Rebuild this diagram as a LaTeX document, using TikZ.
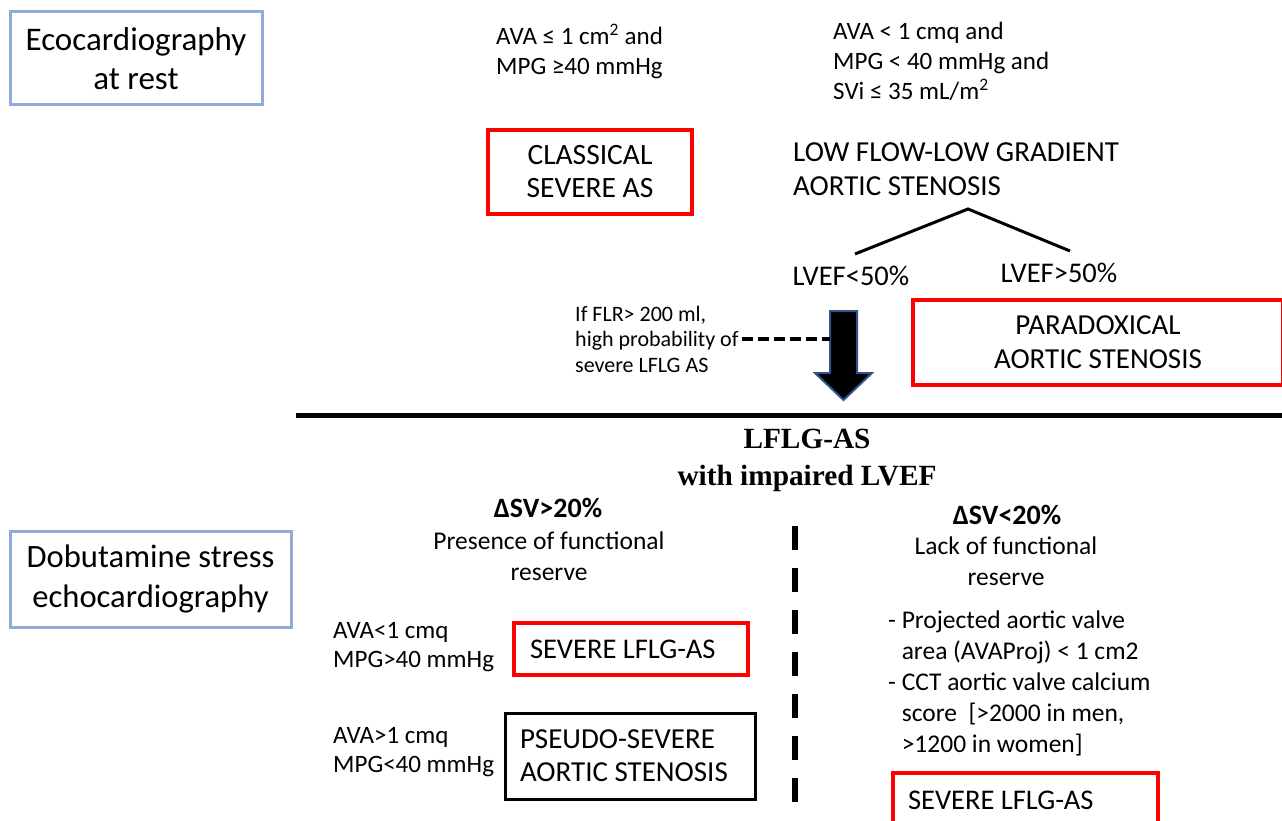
\documentclass[tikz,border=0pt]{standalone}
\usepackage{fontspec}
\setmainfont{Carlito}
\newfontfamily\hdrfont{Liberation Serif}
\definecolor{boxblue}{RGB}{143,170,220}
\definecolor{boxred}{RGB}{255,0,0}
\definecolor{arrowedge}{RGB}{47,82,143}
\tikzset{
  txt/.style={inner sep=0pt, align=flush left},
  ctxt/.style={inner sep=0pt, align=center},
  bluebox/.style={draw=boxblue, line width=3pt, align=center, inner sep=0pt},
  redbox/.style={draw=boxred, line width=4pt, align=center, inner sep=0pt},
  blackbox/.style={draw=black, line width=3pt, align=flush left, inner ysep=0pt},
}
\begin{document}
\begin{tikzpicture}[x=1pt,y=-1pt]
\useasboundingbox (0,0) rectangle (1282,821);

% left stage boxes
\node[bluebox, minimum width=252pt, minimum height=93pt,
      font=\fontsize{33}{39}\selectfont] (rest) at (136,58.5) {Ecocardiography\\at rest};
\node[bluebox, minimum width=281pt, minimum height=96pt,
      font=\fontsize{32.6}{40}\selectfont] (dse) at (150.5,579) {Dobutamine stress\\echocardiography};

% top criteria
\node[txt, anchor=west, font=\fontsize{25}{30.5}\selectfont] (ava1) at (496,51.5)
  {AVA ≤ 1 cm\textsuperscript{2} and\\MPG ≥40 mmHg};
\node[txt, anchor=west, font=\fontsize{25}{30}\selectfont] (ava2) at (833,61)
  {AVA < 1 cmq and\\MPG < 40 mmHg and\\SVi ≤ 35 mL/m\textsuperscript{2}};

% classical
\node[redbox, minimum width=204pt, minimum height=84pt,
      font=\fontsize{29.5}{33}\selectfont] (classic) at (590,172) {CLASSICAL\\SEVERE AS};

% low flow low gradient
\node[txt, anchor=west, font=\fontsize{29}{34}\selectfont] (lflg) at (793,169)
  {LOW FLOW-LOW GRADIENT\\AORTIC STENOSIS};
\coordinate (apex) at (968,209);
\coordinate (tl) at (855,254);
\coordinate (tr) at (1070,251);
\draw[line width=3pt] (tl) -- (apex) -- (tr);
\node[ctxt, font=\fontsize{28.5}{32}\selectfont] (lvefL) at (851,276) {LVEF<50\%};
\node[ctxt, font=\fontsize{28.5}{32}\selectfont] (lvefH) at (1059,273) {LVEF>50\%};

% paradoxical
\node[redbox, minimum width=370pt, minimum height=85pt,
      font=\fontsize{29}{34}\selectfont] (para) at (1098,342.5) {PARADOXICAL\\AORTIC STENOSIS};

% FLR note and big arrow
\node[txt, anchor=west, font=\fontsize{22}{25.5}\selectfont] (flr) at (575,339)
  {If FLR> 200 ml,\\high probability of\\severe LFLG AS};
\coordinate (arrL) at (830,340);
\draw[fill=black, draw=arrowedge, line width=2pt, line join=miter]
  (830,311) -- (857,311) -- (857,373) -- (872,373) -- (843.5,400) -- (815,373) -- (830,373) -- cycle;
\draw[line width=4pt, dash pattern=on 11pt off 5pt, shorten <=3pt] (flr.east) -- (flr.east -| arrL);

% separator
\coordinate (sepL) at (296,415);
\coordinate (sepR) at (1282,415);
\draw[line width=5pt] (sepL) -- (sepR);

% header
\node[ctxt, font=\hdrfont\bfseries\fontsize{29.3}{37}\selectfont] (hdr) at (807,460)
  {LFLG-AS\\with impaired LVEF};

% left branch
\node[ctxt, font=\bfseries\fontsize{28}{28}\selectfont] (dsv1) at (548,508) {ΔSV>20\%};
\node[ctxt, font=\fontsize{25.5}{31}\selectfont] (pres) at (549,556.5) {Presence of functional\\reserve};

\node[txt, anchor=west, font=\fontsize{25}{29}\selectfont] (avaA) at (333,647.5) {AVA<1 cmq\\MPG>40 mmHg};
\node[redbox, minimum width=234pt, minimum height=52pt, align=flush left, inner xsep=16pt,
      text width=202pt, font=\fontsize{28.5}{33}\selectfont] (sevL) at (631,649) {SEVERE LFLG-AS};

\node[txt, anchor=west, font=\fontsize{25}{29}\selectfont] (avaB) at (333,752.5) {AVA>1 cmq\\MPG<40 mmHg};
\node[blackbox, minimum width=250pt, minimum height=86pt, inner xsep=15pt,
      text width=220pt, font=\fontsize{29}{33}\selectfont] (pseudo) at (630,756) {PSEUDO-SEVERE\\AORTIC STENOSIS};

% divider
\coordinate (divT) at (795,526);
\coordinate (divB) at (795,802);
\draw[line width=6pt, dash pattern=on 24pt off 18pt] (divT) -- (divB);

% right branch
\node[ctxt, font=\bfseries\fontsize{28}{28}\selectfont] (dsv2) at (1007,515) {ΔSV<20\%};
\node[ctxt, font=\fontsize{25.5}{31}\selectfont] (lack) at (1006,561.5) {Lack of functional\\reserve};
\node[txt, anchor=west, font=\fontsize{25.5}{31}\selectfont] (crit) at (888,683)
  {- Projected aortic valve\\\phantom{- }area (AVAProj) < 1 cm2\\- CCT aortic valve calcium\\\phantom{- }score\ \ [>2000 in men,\\\phantom{- }>1200 in women]};
\node[redbox, minimum width=265pt, minimum height=54pt, align=flush left, inner xsep=15pt,
      text width=235pt, font=\fontsize{28.5}{33}\selectfont] (sevR) at (1025.5,800) {SEVERE LFLG-AS};
\end{tikzpicture}
\end{document}
